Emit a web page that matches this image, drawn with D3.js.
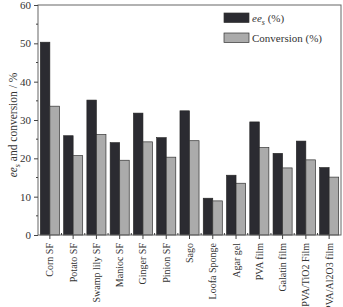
<!DOCTYPE html>
<html>
<head>
<meta charset="utf-8">
<script src="https://cdn.jsdelivr.net/npm/d3@7"></script>
<style>
  body { margin: 0; background: #fff; }
  svg { display: block; font-family: "Liberation Serif", "DejaVu Serif", serif; }
</style>
</head>
<body>
<svg id="chart" width="343" height="307"></svg>
<script>
const categories = ["Corn SF", "Potato SF", "Swamp lily SF", "Manioc SF", "Ginger SF", "Pinion SF", "Sago",
  "Loofa Sponge", "Agar gel", "PVA film", "Galatin film", "PVA/TiO2 Film", "PVA/Al2O3 film"];
const eeValues = [50.3, 25.9, 35.2, 24.1, 31.8, 25.4, 32.4, 9.6, 15.6, 29.5, 21.3, 24.5, 17.6];
const convValues = [33.6, 20.7, 26.2, 19.5, 24.3, 20.3, 24.6, 8.9, 13.5, 22.8, 17.5, 19.6, 15.1];
const yTicks = [0, 10, 20, 30, 40, 50, 60];

const svg = d3.select("#chart"),
  width = +svg.attr("width"),
  height = +svg.attr("height");
const margin = { top: 5, right: 2, bottom: 72, left: 38 };
const plotW = width - margin.left - margin.right,
  plotH = height - margin.top - margin.bottom;

const DARK = "#2b2b31", LIGHT = "#ababab";

const g = svg.append("g").attr("transform", `translate(${margin.left},${margin.top})`);

const x = d3.scaleBand().domain(categories).range([0, plotW]).paddingInner(0.18).paddingOuter(0.1);
const xSub = d3.scaleBand().domain(["ee", "conv"]).range([0, x.bandwidth()]);
const y = d3.scaleLinear().domain([0, 60]).range([plotH, 0]);

// bars
const grp = g.selectAll("g.grp")
  .data(categories.map((c, i) => ({ c, ee: eeValues[i], conv: convValues[i] })))
  .enter().append("g")
  .attr("class", "grp")
  .attr("transform", d => `translate(${x(d.c)},0)`);

grp.append("rect")
  .attr("x", xSub("ee"))
  .attr("y", d => y(d.ee))
  .attr("width", xSub.bandwidth())
  .attr("height", d => plotH - y(d.ee))
  .attr("fill", DARK)
  .attr("stroke", "#222")
  .attr("stroke-width", 0.6);

grp.append("rect")
  .attr("x", xSub("conv"))
  .attr("y", d => y(d.conv))
  .attr("width", xSub.bandwidth())
  .attr("height", d => plotH - y(d.conv))
  .attr("fill", LIGHT)
  .attr("stroke", "#333")
  .attr("stroke-width", 0.7);

// frame
g.append("rect")
  .attr("width", plotW).attr("height", plotH)
  .attr("fill", "none").attr("stroke", "#666").attr("stroke-width", 1);

// y axis
const yAxis = g.append("g").call(d3.axisLeft(y).tickValues(yTicks).tickSize(4).tickPadding(3));
yAxis.select(".domain").remove();
yAxis.selectAll("line").attr("stroke", "#444");
yAxis.selectAll("text").attr("font-size", 11).attr("fill", "#333")
  .attr("font-family", "Liberation Serif, serif");
// minor y ticks
g.append("g").selectAll("line")
  .data(d3.range(5, 60, 10))
  .enter().append("line")
  .attr("x1", -2).attr("x2", 0)
  .attr("y1", d => y(d)).attr("y2", d => y(d))
  .attr("stroke", "#444");

// x axis (long labels run off the bottom edge, as in the original figure)
const xAxis = g.append("g").attr("transform", `translate(0,${plotH})`)
  .call(d3.axisBottom(x).tickSize(4).tickPadding(4));
xAxis.select(".domain").remove();
xAxis.selectAll("line").attr("stroke", "#444");
xAxis.selectAll("text")
  .attr("font-size", 10).attr("fill", "#333")
  .attr("font-family", "Liberation Serif, serif")
  .attr("transform", "rotate(-90)")
  .attr("text-anchor", "end")
  .attr("dy", "0.35em")
  .attr("x", -8).attr("y", 0);
// minor x ticks between groups
g.append("g").selectAll("line")
  .data(categories.slice(1))
  .enter().append("line")
  .attr("x1", d => x(d) - x.step() * x.paddingInner() / 2)
  .attr("x2", d => x(d) - x.step() * x.paddingInner() / 2)
  .attr("y1", plotH - 2).attr("y2", plotH)
  .attr("stroke", "#444");

// y label
const yl = svg.append("text")
  .attr("transform", `translate(17,${margin.top + plotH / 2 + 5}) rotate(-90)`)
  .attr("text-anchor", "middle")
  .attr("font-size", 11.5).attr("fill", "#333");
yl.append("tspan").attr("font-style", "italic").text("ee");
yl.append("tspan").attr("font-style", "italic").attr("font-size", 8).attr("dy", 3).text("s");
yl.append("tspan").attr("dy", -3).text(" and conversion / %");

// legend
const legend = svg.append("g").attr("transform", "translate(224,13)");
const items = [{ fill: DARK, key: "ee" }, { fill: LIGHT, key: "conv" }];
const li = legend.selectAll("g").data(items).enter().append("g")
  .attr("transform", (d, i) => `translate(0,${i * 20})`);
li.append("rect").attr("width", 25).attr("height", 9.5)
  .attr("fill", d => d.fill).attr("stroke", "#333").attr("stroke-width", 0.7);
li.each(function (d) {
  const t = d3.select(this).append("text").attr("x", 28).attr("y", 8.5)
    .attr("font-size", 11).attr("fill", "#333");
  if (d.key === "ee") {
    t.append("tspan").attr("font-style", "italic").text("ee");
    t.append("tspan").attr("font-style", "italic").attr("font-size", 8).attr("dy", 3).text("s");
    t.append("tspan").attr("dy", -3).text(" (%)");
  } else {
    t.text("Conversion (%)");
  }
});
</script>
</body>
</html>
